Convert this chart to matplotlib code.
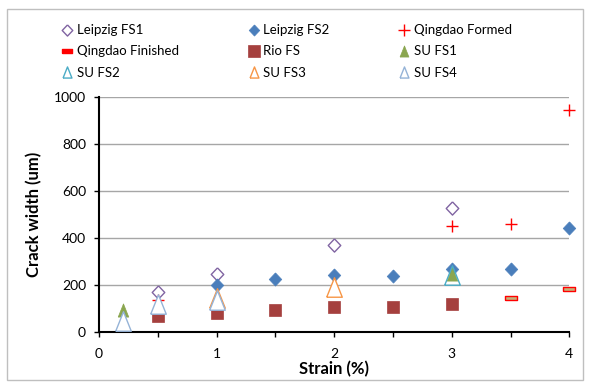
import matplotlib
matplotlib.use("Agg")
import matplotlib.pyplot as plt
from matplotlib.lines import Line2D
from matplotlib.patches import Rectangle

plt.rcParams['font.family'] = ['Lato', 'DejaVu Sans']

# data
leipzig_fs1_x = [0.5, 1, 2, 3]
leipzig_fs1_y = [172, 246, 369, 529]
leipzig_fs2_x = [1, 1.5, 2, 2.5, 3, 3.5, 4]
leipzig_fs2_y = [200, 224, 241, 237, 270, 270, 441]
qingdao_formed_x = [0.5, 3, 3.5, 4]
qingdao_formed_y = [137, 453, 458, 944]
qingdao_finished_x = [3.5, 4]
qingdao_finished_y = [145, 185]
rio_x = [0.5, 1, 1.5, 2, 2.5, 3]
rio_y = [67, 80, 92, 105, 107, 118]
su_fs1_x = [0.2, 0.5, 3]
su_fs1_y = [92, 125, 246]
su_fs2_x = [3]
su_fs2_y = [243]
su_fs3_x = [1, 2]
su_fs3_y = [145, 190]
su_fs4_x = [0.2, 0.5, 1]
su_fs4_y = [45, 120, 135]

diamond = [(0, 1), (0.95, 0), (0, -1), (-0.95, 0), (0, 1)]
tall_tri = [(-0.8, -1), (0.8, -1), (0, 1), (-0.8, -1)]
dash = [(-1, -0.35), (1, -0.35), (1, 0.35), (-1, 0.35), (-1, -0.35)]

# (label, x, y, style)
series = [
    ("Leipzig FS1", leipzig_fs1_x, leipzig_fs1_y,
     dict(marker=diamond, ms=9.5, mfc='white', mec='#8064A2', mew=1.0)),
    ("Leipzig FS2", leipzig_fs2_x, leipzig_fs2_y,
     dict(marker=diamond, ms=9.5, mfc='#4A7EBB', mec='#4A7EBB', mew=0.5)),
    ("Qingdao Formed", qingdao_formed_x, qingdao_formed_y,
     dict(marker='+', ms=9, mec='#FF0000', mew=1.0)),
    ("Qingdao Finished", qingdao_finished_x, qingdao_finished_y,
     dict(marker=dash, ms=8, mfc='#C4B27A', mec='#FF0000', mew=1.0)),
    ("Rio FS", rio_x, rio_y,
     dict(marker='s', ms=8, mfc='#A5403E', mec='#A5403E', mew=0.5)),
    ("SU FS1", su_fs1_x, su_fs1_y,
     dict(marker=tall_tri, ms=9.5, mfc='#8AA64F', mec='#8AA64F', mew=0.5)),
    ("SU FS2", su_fs2_x, su_fs2_y,
     dict(marker=tall_tri, ms=14, mfc='none', mec='#4BACC6', mew=1.0)),
    ("SU FS3", su_fs3_x, su_fs3_y,
     dict(marker=tall_tri, ms=14, mfc='white', mec='#F79646', mew=1.0)),
    ("SU FS4", su_fs4_x, su_fs4_y,
     dict(marker=tall_tri, ms=14, mfc='white', mec='#95B3D7', mew=1.0)),
]

fig = plt.figure(figsize=(5.9, 3.83), dpi=100)
ax = fig.add_axes([0.168, 0.133, 0.797, 0.614])

handles = []
for i, (label, xs, ys, st) in enumerate(series):
    ax.plot(xs, ys, ls='none', zorder=3 + i, clip_on=False, **st)
    leg_st = dict(st)
    leg_st['ms'] = min(st['ms'], 8) if st['marker'] is not dash else 7
    if label == "Qingdao Finished":
        leg_st['mfc'] = '#FF0000'
    handles.append(Line2D([], [], ls='none', label=label, **leg_st))

ax.set_xlim(0, 4)
ax.set_ylim(0, 1000)
ax.set_xticks([0, 0.5, 1, 1.5, 2, 2.5, 3, 3.5, 4])
ax.set_xticklabels(['0', '', '1', '', '2', '', '3', '', '4'])
ax.set_yticks([0, 200, 400, 600, 800, 1000])
ax.yaxis.grid(True, color='#A6A6A6', lw=1.0)
ax.set_axisbelow(True)
for s in ['top', 'right']:
    ax.spines[s].set_visible(False)
for s in ['left', 'bottom']:
    ax.spines[s].set_linewidth(1.5)
ax.tick_params(direction='out', length=3.5, width=1, labelsize=10)
ax.tick_params(axis='x', pad=8)
ax.tick_params(axis='y', pad=6)
ax.set_xlabel('Strain (%)', fontsize=12, fontweight='bold', labelpad=1)
ax.set_ylabel('Crack width (um)', fontsize=12, fontweight='bold', labelpad=8)

# legend is filled column by column, so reorder to read row by row
order = [0, 3, 6, 1, 4, 7, 2, 5, 8]
fig.legend([handles[k] for k in order], [handles[k].get_label() for k in order],
           ncol=3, loc='upper left', bbox_to_anchor=(0.085, 0.968),
           frameon=False, fontsize=9.5, handlelength=0.8, handletextpad=0.3,
           columnspacing=5.3, labelspacing=0.7)

fig.patches.append(Rectangle((0.012, 0.008), 0.976, 0.968, transform=fig.transFigure,
                             fill=False, edgecolor='#BFBFBF', lw=1.0))

fig.savefig('out.png', dpi=100)
